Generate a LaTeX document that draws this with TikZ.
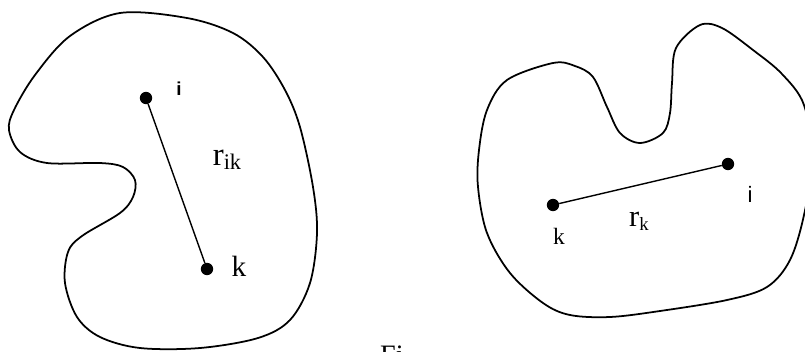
\documentclass[tikz,border=0pt]{standalone}
\usepackage{fontspec}
\setmainfont{Liberation Serif}
\newfontfamily\lblsans{Liberation Sans}
\begin{document}
\begin{tikzpicture}[
  x=0.03cm,y=-0.03cm,
  blob/.style={line width=1.5pt, smooth cycle, tension=0.55},
  dot/.style={circle, fill=black, inner sep=0pt, minimum size=0.37cm},
  bond/.style={line width=1.2pt},
  lbl/.style={inner sep=0pt}
]
\useasboundingbox (0,0) rectangle (805,351);
\clip (0,0) rectangle (805,351);

% left body
\draw[blob] plot coordinates {
  (120,13) (187,18) (233,33) (263,57) (285,90) (300,127) (313,187)
  (317,233) (310,283) (290,320) (258,338) (200,348) (140,348) (100,337)
  (77,317) (65,283) (68,252) (82,236) (120,213) (133,197) (135,180)
  (123,167) (100,163) (47,163) (20,152) (9,130) (14,110) (35,75) (70,36)};

\node[dot] (iL) at (146,98) {};
\node[dot] (kL) at (207,269) {};
\draw[bond] (iL) -- (kL);
\node[lbl] (iLtxt) at (179,89) {\lblsans\bfseries\fontsize{16}{17}\selectfont i};
\node[lbl] (kLtxt) at (239,266) {\fontsize{25}{26}\selectfont k};
\node[lbl] (rik) at (227,160) {\fontsize{28}{30}\selectfont r\raisebox{-0.3ex}{\fontsize{19}{20}\selectfont ik}};

% right body
\draw[blob] plot coordinates {
  (553,63) (575,66) (593,77) (607,107) (620,133) (640,143) (663,133)
  (670,113) (672,83) (676,48) (700,25) (722,28) (753,50) (782,74)
  (804,105) (812,160) (804,215) (790,260) (767,287) (727,300) (660,311)
  (610,317) (570,315) (543,303) (510,273) (487,233) (478,187) (479,150)
  (487,110) (507,80)};

\node[dot] (kR) at (553,205) {};
\node[dot] (iR) at (728,164) {};
\draw[bond] (kR) -- (iR);
\node[lbl] (kRtxt) at (559,236) {\fontsize{20}{22}\selectfont k};
\node[lbl] (iRtxt) at (750,194) {\lblsans\fontsize{19}{20}\selectfont i};
\node[lbl] (rk) at (639,221) {\fontsize{26}{28}\selectfont r\raisebox{-0.3ex}{\fontsize{16}{18}\selectfont k}};

% caption, cut off at the bottom
\node[lbl, anchor=north west] (cap) at (380,346) {\fontsize{24}{26}\selectfont Fi};
\end{tikzpicture}
\end{document}
